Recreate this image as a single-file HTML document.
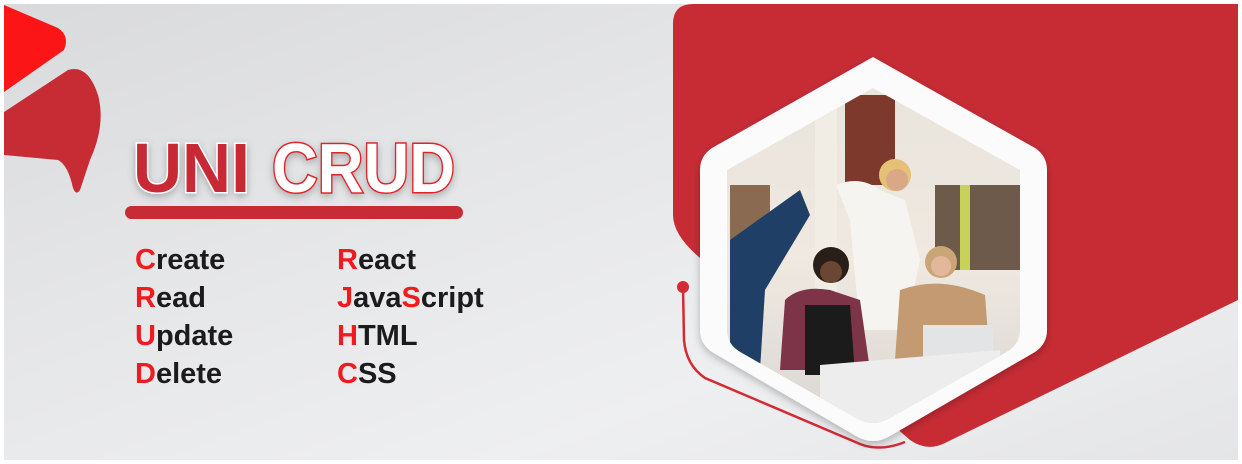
<!DOCTYPE html>
<html><head><meta charset="utf-8"><style>
html,body{margin:0;padding:0;width:1242px;height:464px;overflow:hidden;background:#fff}
</style></head><body>
<svg width="1242" height="464" viewBox="0 0 1242 464" xmlns="http://www.w3.org/2000/svg">
<defs>
<linearGradient id="bg" x1="0" y1="0" x2="1" y2="1">
<stop offset="0" stop-color="#d9dadc"/><stop offset="0.4" stop-color="#e6e7e9"/><stop offset="0.7" stop-color="#eeeff0"/><stop offset="1" stop-color="#e4e5e7"/>
</linearGradient>
<linearGradient id="room" x1="0" y1="0" x2="0" y2="1">
<stop offset="0" stop-color="#e9e4dc"/><stop offset="0.5" stop-color="#efe9e0"/><stop offset="1" stop-color="#d9d6d2"/>
</linearGradient>
<clipPath id="hexin"><path d="M873 88 L1020 170 L1020 330 Q1020 345 1005 353 L890 418 Q873 428 856 418 L742 353 Q727 345 727 330 L727 170 Z"/></clipPath>
<filter id="sh" x="-20%" y="-20%" width="140%" height="140%"><feDropShadow dx="0" dy="3" stdDeviation="4" flood-color="#000" flood-opacity="0.25"/></filter>
</defs>
<rect x="4" y="4" width="1234" height="456" fill="url(#bg)"/>
<!-- left shapes -->
<path d="M4 5 L58 28 Q70 36 64 50 L4 92 Z" fill="#fb1517"/>
<path d="M4 112 L68 70 Q88 64 98 95 Q106 125 90 160 L80 190 Q76 196 73 188 Q68 165 58 160 L4 155 Z" fill="#c72c35"/>
<!-- title -->
<g font-family="Liberation Sans, sans-serif" font-weight="bold" font-size="70" filter="url(#sh)">
<text x="133" y="192" fill="#c72c35" stroke="#fff" stroke-width="3" paint-order="stroke" textLength="117" lengthAdjust="spacingAndGlyphs">UNI</text>
<text x="272" y="192" fill="#fff" stroke="#e0242a" stroke-width="3" paint-order="stroke" textLength="183" lengthAdjust="spacingAndGlyphs">CRUD</text>
</g>
<rect x="125" y="206" width="338" height="13" rx="6.5" fill="#c72c35"/>
<g font-family="Liberation Sans, sans-serif" font-weight="bold" font-size="29" fill="#1b1b1b">
<text x="135" y="269"><tspan fill="#f01b1f">C</tspan>reate</text>
<text x="135" y="307"><tspan fill="#f01b1f">R</tspan>ead</text>
<text x="135" y="345"><tspan fill="#f01b1f">U</tspan>pdate</text>
<text x="135" y="383"><tspan fill="#f01b1f">D</tspan>elete</text>
<text x="337" y="269"><tspan fill="#f01b1f">R</tspan>eact</text>
<text x="337" y="307"><tspan fill="#f01b1f">J</tspan>ava<tspan fill="#f01b1f">S</tspan>cript</text>
<text x="337" y="345"><tspan fill="#f01b1f">H</tspan>TML</text>
<text x="337" y="383"><tspan fill="#f01b1f">C</tspan>SS</text>
</g>
<!-- red panel -->
<path d="M693 4 L1238 4 L1238 300 L945 443 Q927 452 910 440 L700 258 Q673 235 673 215 L673 24 Q673 4 693 4 Z" fill="#c72c35"/>
<!-- red line -->
<circle cx="683" cy="287" r="6" fill="#d42a33"/>
<path d="M683 287 L684 340 Q686 365 705 378 L860 444 Q880 452 905 442" fill="none" stroke="#d42a33" stroke-width="2.5"/>
<!-- hexagon -->
<path d="M873 57 L1035 148 Q1047 156 1047 170 L1047 330 Q1047 344 1035 352 L890 436 Q873 446 856 436 L712 352 Q700 344 700 330 L700 170 Q700 156 712 148 Z" fill="#fbfbfb" filter="url(#sh)"/>
<g clip-path="url(#hexin)">
<rect x="720" y="85" width="310" height="345" fill="url(#room)"/>
<rect x="845" y="95" width="50" height="90" fill="#7d3a2c"/>
<rect x="815" y="95" width="22" height="200" fill="#f2ede4"/>
<rect x="730" y="185" width="40" height="80" fill="#8a6b52"/>
<rect x="935" y="185" width="85" height="85" fill="#6e5a4a"/>
<rect x="960" y="185" width="10" height="85" fill="#c8d25a"/>
<path d="M730 240 L800 190 L810 215 L765 290 L760 370 L730 370 Z" fill="#1f3f66"/>
<path d="M836 185 Q860 175 880 190 L905 200 L920 260 L905 330 L860 330 L850 220 Z" fill="#f6f4f0"/>
<circle cx="895" cy="175" r="16" fill="#e6c076"/>
<circle cx="897" cy="180" r="11" fill="#d9a987"/>
<path d="M785 300 Q800 285 830 290 L860 300 L870 370 L780 370 Z" fill="#7d3448"/>
<path d="M805 305 L850 305 L855 375 L805 375 Z" fill="#1b1b1b"/>
<circle cx="831" cy="265" r="18" fill="#2a1e18"/>
<circle cx="831" cy="272" r="11" fill="#6b4632"/>
<path d="M900 290 Q940 275 985 295 L990 360 L895 360 Z" fill="#c49a73"/>
<circle cx="941" cy="262" r="16" fill="#c9a577"/>
<circle cx="941" cy="266" r="10" fill="#e3b89a"/>
<rect x="923" y="325" width="70" height="40" fill="#e3e4e6"/>
<path d="M820 365 L1000 350 L1000 430 L820 430 Z" fill="#ededee"/>
</g>
</svg>
</body></html>
